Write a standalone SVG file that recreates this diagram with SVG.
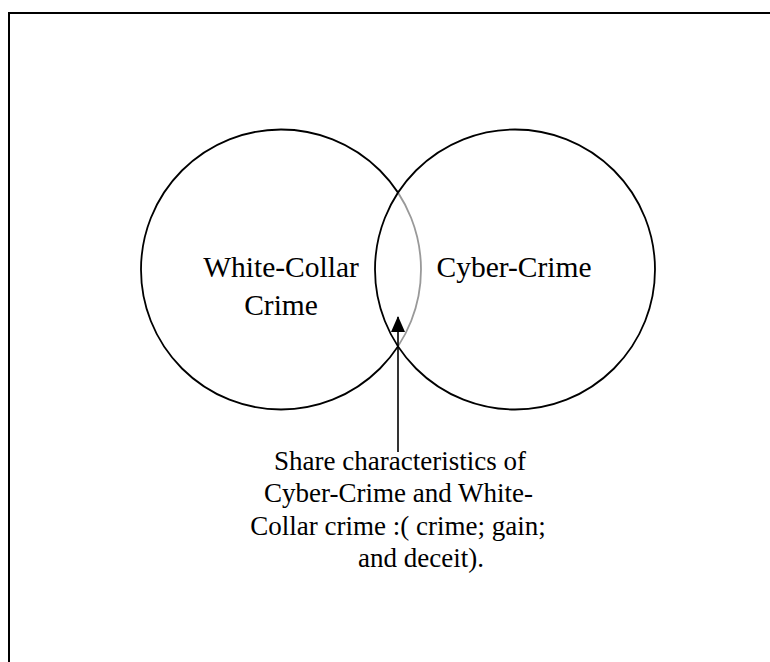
<svg xmlns="http://www.w3.org/2000/svg" width="770" height="662" viewBox="0 0 770 662">
  <style>
    .ring { fill: none; stroke: #000; stroke-width: 1.8; }
    .label { fill: #000; text-anchor: middle; }
    .big { font-size: 29.5px; }
    .note { font-size: 27px; }
  </style>
  <defs>
    <marker id="head" viewBox="0 0 16 14" refX="15" refY="7" markerWidth="16" markerHeight="14" markerUnits="userSpaceOnUse" orient="auto">
      <path d="M0,0 L16,7 L0,14 Z" fill="#000"/>
    </marker>
  </defs>
  <rect width="770" height="662" fill="#fff"/>
  <!-- outer frame, open past the right and bottom edges -->
  <rect x="9" y="13" width="780" height="680" fill="none" stroke="#000" stroke-width="2"/>

  <g font-family="'Liberation Serif', 'DejaVu Serif', serif">
    <g id="white-collar">
      <circle class="ring" cx="281" cy="269.5" r="140"/>
      <text class="label big" x="281" y="277">White-Collar</text>
      <text class="label big" x="281" y="315">Crime</text>
    </g>

    <g id="cyber-crime">
      <!-- translucent fill softens the overlapped arc of the left ring -->
      <circle cx="515" cy="269.5" r="140" fill="#fff" fill-opacity="0.6" stroke="#000" stroke-width="1.8"/>
      <text class="label big" x="514" y="277">Cyber-Crime</text>
    </g>

    <g id="connectors">
      <line x1="398" y1="452" x2="398" y2="317" stroke="#000" stroke-width="1.6" marker-end="url(#head)"/>
    </g>

    <g id="shared-note">
      <text class="label note" x="400" y="470">Share characteristics of</text>
      <text class="label note" x="398.5" y="502">Cyber-Crime and White-</text>
      <text class="label note" x="398" y="535">Collar crime :( crime; gain;</text>
      <text class="label note" x="421" y="567">and deceit).</text>
    </g>
  </g>
</svg>
